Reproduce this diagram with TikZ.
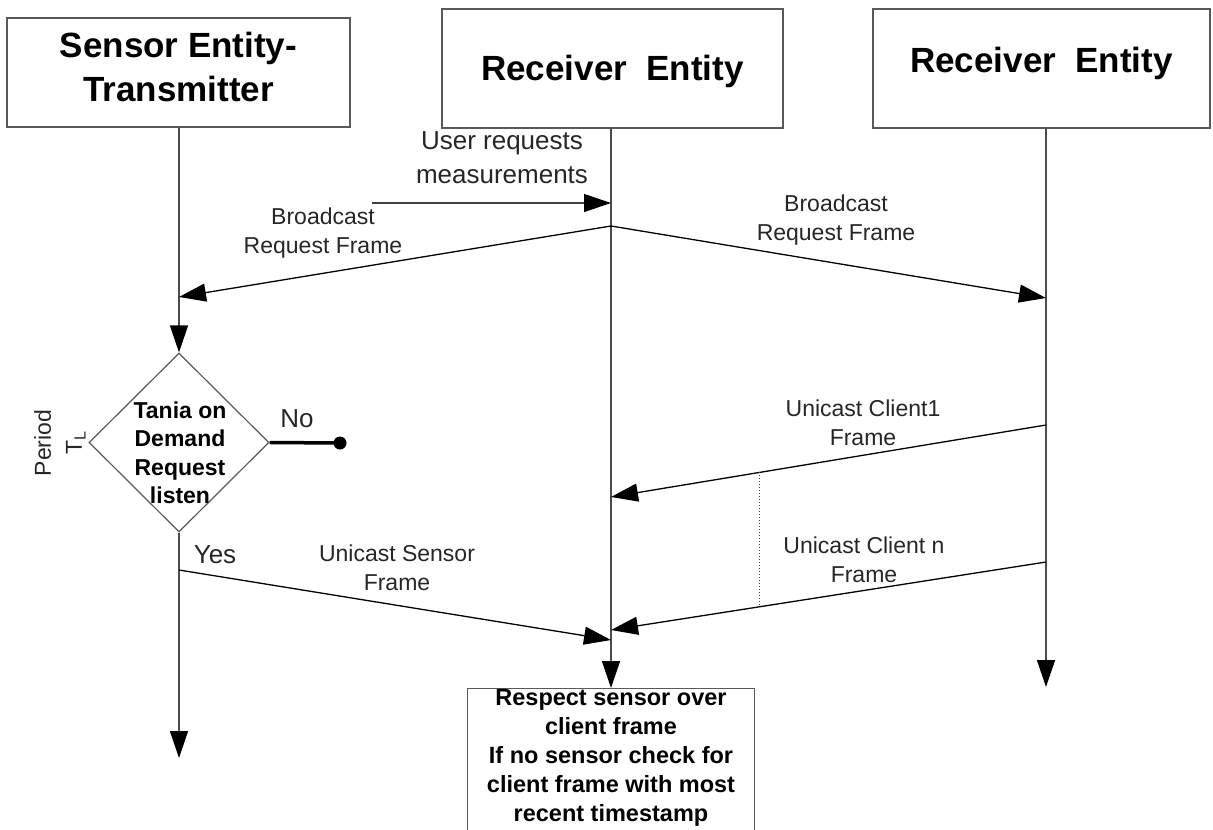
\documentclass[tikz,border=0pt]{standalone}
\usepackage{fontspec}
\setmainfont{Liberation Sans}
\usetikzlibrary{arrows.meta,shapes.geometric}
\begin{document}
\begin{tikzpicture}[x=1pt,y=-1pt,
  entbox/.style={draw=black!65, line width=1.3pt, fill=white, inner sep=0},
  enttext/.style={align=center, inner sep=0, font=\fontsize{35}{44}\selectfont\bfseries},
  lab/.style={font=\fontsize{23}{29}\selectfont, align=center, text=black!85, inner sep=0},
  bigtext/.style={font=\fontsize{26}{34}\selectfont, align=center, text=black!85, inner sep=0},
  boldtext/.style={font=\fontsize{23}{28.5}\selectfont\bfseries, align=center, inner sep=0},
  life/.style={draw=black!70, line width=1.5pt},
  tip/.style={-{Triangle[length=27pt,width=18pt,color=black]}},
  msg/.style={draw=black, line width=1.3pt, tip},
]
\useasboundingbox (0,0) rectangle (1213,830);
\begin{scope}
\clip (0,0) rectangle (1213,830);

% entity boxes
\node[entbox, minimum width=343pt, minimum height=109pt] (sensor) at (178.5,72.5) {};
\node[enttext] (sensorT) at (178.5,67) {Sensor Entity-\\Transmitter};
\node[entbox, minimum width=341pt, minimum height=119pt] (recv1) at (612.5,68.5) {};
\node[enttext] (recv1T) at (612.5,71) {Receiver\ \ Entity};
\node[entbox, minimum width=337pt, minimum height=119pt] (recv2) at (1041.5,68.5) {};
\node[enttext] (recv2T) at (1041.5,63) {Receiver\ \ Entity};

% decision diamond
\node[diamond, draw=black!65, line width=1.2pt, minimum width=180pt, minimum height=179pt, inner sep=0] (dec) at (179,442.5) {};
\node[boldtext] (dectext) at (180,453) {Tania on\\Demand\\Request\\listen};

% result box
\node[draw=black!65, line width=1.3pt, fill=white, minimum width=287pt, minimum height=170pt, anchor=north, inner sep=0] (res) at (611,688) {};
\node[boldtext, font=\fontsize{23.5}{29}\selectfont\bfseries] (restext) at (611,758) {Respect sensor over\\client frame\\If no sensor check for\\client frame with most\\recent timestamp};

% coordinates on lifelines
\coordinate (lTop) at (179,127);
\coordinate (lEnd) at (179,758);
\coordinate (mTop) at (611,128);
\coordinate (rTop) at (1046,128);
\coordinate (rEnd) at (1046,687);

% lifelines
\draw[life, tip] (lTop) -- (dec.north);
\draw[life, tip] (dec.south) -- (lEnd);
\draw[life, tip] (mTop) -- (res.north);
\draw[life, tip] (rTop) -- (rEnd);

% user request
\coordinate (uStart) at (372,203);
\coordinate (uEnd) at (611,203);
\draw[msg, draw=black!75] (uStart) -- (uEnd);
\node[bigtext] (ulab) at (502,158) {User requests\\measurements};

% broadcast
\coordinate (bSrc) at (611,226);
\coordinate (bL) at (179,297);
\coordinate (bR) at (1046,298);
\draw[msg] (bSrc) -- (bL);
\draw[msg] (bSrc) -- (bR);
\node[lab] (blabL) at (323,233) {Broadcast\\Request Frame};
\node[lab] (blabR) at (836,220) {Broadcast\\Request Frame};

% unicast clients
\coordinate (c1s) at (1046,425);
\coordinate (c1e) at (611,497);
\coordinate (cns) at (1046,562);
\coordinate (cne) at (611,630);
\draw[msg] (c1s) -- (c1e);
\draw[msg] (cns) -- (cne);
\path (c1s) -- (c1e) coordinate[pos=0.6575] (d1);
\path (cns) -- (cne) coordinate[pos=0.6575] (d2);
\draw[dotted, black!75, line width=1pt] (d1) -- (d2);
\node[lab] (c1lab) at (863,423) {Unicast Client1\\Frame};
\node[lab] (cnlab) at (864,560) {Unicast Client n\\Frame};

% unicast sensor
\coordinate (sS) at (179,570);
\coordinate (sE) at (611,640);
\draw[msg] (sS) -- (sE);
\node[lab] (slab) at (397,568) {Unicast Sensor\\Frame};

% yes / no
\coordinate (noDot) at (340,443);
\draw[line width=3.5pt] (dec.east) -- (noDot);
\fill (noDot) circle (6.5pt);
\node[bigtext] (nolab) at (297,419) {No};
\node[bigtext] (yeslab) at (215,555) {Yes};

% period
\node[lab, rotate=90, font=\fontsize{23}{31}\selectfont] (period) at (60,443) {Period\\T\textsubscript{L}};
\end{scope}
\end{tikzpicture}
\end{document}
